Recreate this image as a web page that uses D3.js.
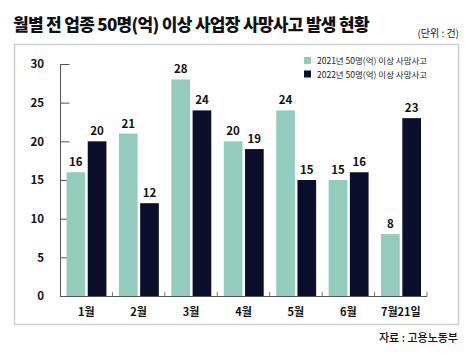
<!DOCTYPE html>
<html><head><meta charset="utf-8">
<script src="https://cdn.jsdelivr.net/npm/d3@7/dist/d3.min.js"></script>
<style>
html,body{margin:0;padding:0;background:#fff;}
text{font-family:"Noto Sans CJK KR","Noto Sans",sans-serif;}
</style></head>
<body>
<svg id="c" width="474" height="355"></svg>
<script>
const categories = ["1월","2월","3월","4월","5월","6월","7월21일"];
const series2021 = [16,21,28,20,24,15,8];
const series2022 = [20,12,24,19,15,16,23];
const seriesNames = ["2021년 50명(억) 이상 사망사고","2022년 50명(억) 이상 사망사고"];
const yTicks = [0,5,10,15,20,25,30];
const colors = ["#93cbbd","#0c0f2c"];

const svg = d3.select("#c");
// frame
svg.append("rect").attr("x",14.5).attr("y",44.5).attr("width",444).attr("height",280)
  .attr("fill","none").attr("stroke","#d0d0d0").attr("stroke-width",1.5);

svg.append("text").attr("x",13).attr("y",31).attr("font-size",17).attr("font-weight",900)
  .attr("fill","#111").attr("letter-spacing",-0.7).text("월별 전 업종 50명(억) 이상 사업장 사망사고 발생 현황");
svg.append("text").attr("x",459).attr("y",37).attr("text-anchor","end").attr("font-size",10)
  .attr("fill","#222").text("(단위 : 건)");
svg.append("text").attr("x",458).attr("y",342).attr("text-anchor","end").attr("font-size",11)
  .attr("font-weight",500).attr("fill","#111").text("자료 : 고용노동부");

const x0 = d3.scaleBand().domain(categories).range([60,427]).paddingInner(0).paddingOuter(0);
const x1 = d3.scaleBand().domain([0,1]).range([6.5, x0.bandwidth()-6]).paddingInner(0.12);
const y = d3.scaleLinear().domain([0,30]).range([296,64]);

// y axis
const ya = svg.append("g").attr("transform","translate(60,0)")
  .call(d3.axisLeft(y).tickValues(yTicks).tickSize(-9).tickPadding(16));
ya.select(".domain").attr("stroke","#555").attr("d","M0.5,64V296.5");
ya.selectAll(".tick line").attr("stroke","#555").attr("transform","translate(0.5,0)");
ya.selectAll(".tick text").attr("font-size",11.5).attr("font-weight",700).attr("fill","#111")
  .attr("font-family","'Open Sans','Noto Sans',sans-serif");

// x axis
const xa = svg.append("g").attr("transform","translate(0,296)")
  .call(d3.axisBottom(x0).tickSize(0).tickPadding(12));
xa.select(".domain").attr("stroke","#555").attr("d","M60,0.5H427");
xa.selectAll(".tick text").attr("font-size",11).attr("font-weight",700).attr("fill","#111");
// boundary ticks
const bounds = categories.map(c=>x0(c)).concat([x0(categories[categories.length-1])+x0.bandwidth()]);
svg.append("g").selectAll("line").data(bounds.slice(1)).join("line")
  .attr("x1",d=>d).attr("x2",d=>d).attr("y1",292).attr("y2",296.5).attr("stroke","#777");

const data = categories.map((c,i)=>({c, v:[series2021[i],series2022[i]]}));
const g = svg.append("g").selectAll("g").data(data).join("g")
  .attr("transform",d=>`translate(${x0(d.c)},0)`);
g.selectAll("rect").data(d=>d.v.map((v,k)=>({v,k}))).join("rect")
  .attr("x",d=>x1(d.k)).attr("width",x1.bandwidth())
  .attr("y",d=>y(d.v)).attr("height",d=>296-y(d.v)).attr("fill",d=>colors[d.k]);
g.selectAll("text.v").data(d=>d.v.map((v,k)=>({v,k}))).join("text").attr("class","v")
  .attr("x",d=>x1(d.k)+x1.bandwidth()/2).attr("y",d=>y(d.v)-6)
  .attr("text-anchor","middle").attr("font-size",11.5).attr("font-weight",700).attr("fill","#111")
  .attr("font-family","'Open Sans','Noto Sans',sans-serif").text(d=>d.v);

// legend
const lg = svg.append("g").selectAll("g").data(seriesNames).join("g")
  .attr("transform",(d,i)=>`translate(304,${57+i*13.5})`);
lg.append("rect").attr("width",7).attr("height",7).attr("fill",(d,i)=>colors[i]);
lg.append("text").attr("x",13).attr("y",7).attr("font-size",8.5).attr("fill","#222").text(d=>d);
</script>
</body></html>
